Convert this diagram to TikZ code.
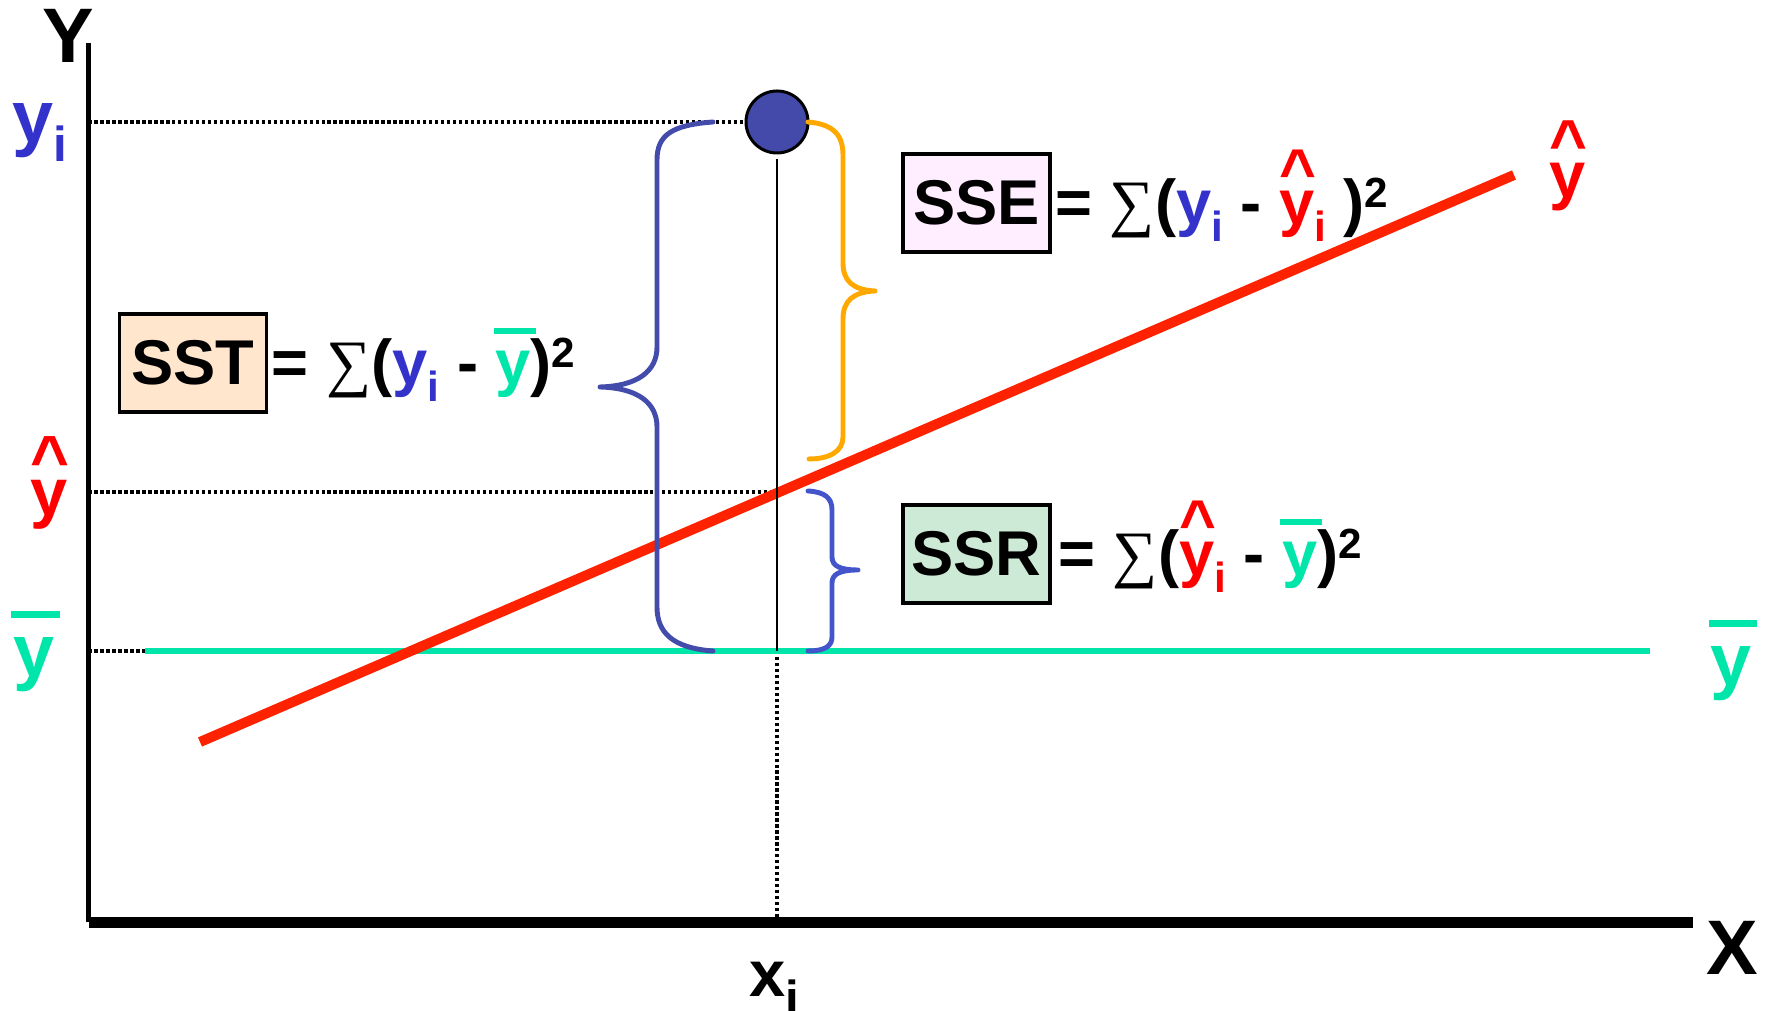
\documentclass[tikz,border=0pt]{standalone}
\usepackage{fontspec}
\setmainfont{Liberation Sans}
\newfontfamily\sumfont{Liberation Serif}
\usetikzlibrary{positioning}
\definecolor{regBlue}{HTML}{3333CC}
\definecolor{regRed}{HTML}{FF0000}
\definecolor{regLine}{HTML}{FF2200}
\definecolor{regTeal}{HTML}{00E5AA}
\definecolor{regDot}{HTML}{434AAA}
\definecolor{regBrace}{HTML}{434BAB}
\definecolor{regSsr}{HTML}{4455CC}
\definecolor{regOrange}{HTML}{FFA800}
\definecolor{regPink}{HTML}{FFEEFF}
\definecolor{regPeach}{HTML}{FFE6CC}
\definecolor{regMint}{HTML}{CCEAD6}
\newcommand{\yhatsym}{\rlap{\raisebox{0.5em}{\textasciicircum}}y}
\newcommand{\ybarsym}{\rlap{\hspace{-0.03em}\rule[0.8em]{0.66em}{0.1em}}y}
\newcommand{\eqi}{\raisebox{-4.7pt}{\fontsize{12}{14}\selectfont i}}
\newcommand{\eqsq}{\raisebox{5pt}{\fontsize{12}{14}\selectfont 2}}
\newcommand{\labi}{\raisebox{-5.4pt}{\fontsize{14}{16}\selectfont i}}
\newcommand{\sumsign}{{\sumfont\mdseries ∑}}
\tikzset{
  reg axis/.style={draw=black, line width=1.42pt},
  reg guide/.style={draw=black, line width=0.95pt, dash pattern=on 0.95pt off 0.75pt},
  reg box/.style={draw=black, line width=0.95pt, minimum width=1.47cm, minimum height=0.98cm, inner sep=0pt, font=\bfseries\fontsize{18}{20}\selectfont},
  reg eq/.style={inner sep=0pt, font=\bfseries\fontsize{18}{20}\selectfont},
  reg brace/.style={line width=1.4pt, line cap=round, line join=round},
  reg label/.style={inner sep=0pt, anchor=base west, font=\bfseries\fontsize{20}{24}\selectfont},
}

\begin{document}
\begin{tikzpicture}
  \useasboundingbox (0,0) rectangle (17.69,10.11);

  % Key points
  \coordinate (o) at (0.885,0.885);
  \coordinate (ytop) at (0.885,9.68);
  \coordinate (xend) at (16.93,0.885);
  \coordinate (xi) at (7.77,0.94);
  \coordinate (fit a) at (2.00,2.69);
  \coordinate (fit b) at (15.14,8.36);
  \coordinate (yhat) at (7.77,5.19);
  \coordinate (ybar) at (7.77,3.60);
  \coordinate (mean a) at (1.45,3.60);
  \coordinate (mean b) at (16.50,3.60);
  \node[circle, draw=black, line width=0.85pt, fill=regDot, minimum size=0.62cm, inner sep=0pt] (pt) at (7.77,8.89) {};

  % Guides
  \draw[reg guide] (o |- pt) -- (pt.west);
  \draw[reg guide] (o |- yhat) -- (yhat);
  \draw[reg guide] (o |- ybar) -- (mean a);
  \draw[reg guide] (ybar) -- (xi);

  % Mean and fitted line
  \draw[regTeal, line width=1.5pt] (mean a) -- (mean b);
  \draw[regLine, line width=2.85pt] (fit a) -- (fit b);
  \draw[black, line width=0.7pt] ([yshift=-0.05cm]pt.south) -- (ybar);

  % Axes
  \draw[reg axis] (o) -- (ytop);
  \draw[reg axis, line width=3.1pt] (o) -- (xend);
  \node[font=\bfseries\fontsize{22}{26}\selectfont, inner sep=0pt] (ylab) at (0.68,9.755) {Y};
  \node[font=\bfseries\fontsize{22}{26}\selectfont, inner sep=0pt] (xlab) at (17.325,0.635) {X};

  % Side labels
  \node[reg label, text=regBlue, font=\bfseries\fontsize{21}{24}\selectfont] (yi lab) at (0.12,8.68) {y\labi};
  \node[reg label, text=regRed, font=\bfseries\fontsize{19}{22}\selectfont] (yhat lab) at (0.30,4.95) {\yhatsym};
  \node[reg label, text=regTeal, font=\bfseries\fontsize{21}{24}\selectfont] (ybar lab) at (0.13,3.34) {\ybarsym};
  \node[reg label, text=regRed, font=\bfseries\fontsize{18.5}{22}\selectfont] (fit lab) at (15.49,8.13) {\yhatsym};
  \node[reg label, text=regTeal, font=\bfseries\fontsize{21}{24}\selectfont] (mean lab) at (17.10,3.25) {\ybarsym};
  \node[reg label, font=\bfseries\fontsize{18.5}{22}\selectfont] (xi lab) at (7.49,0.14) {x\labi};

  % Braces
  \draw[reg brace, regBrace] (7.13,8.89) .. controls (6.72,8.86) and (6.57,8.76) .. (6.57,8.51)
    -- (6.57,6.64) .. controls (6.57,6.40) and (6.38,6.25) .. (6.00,6.24)
    .. controls (6.38,6.23) and (6.57,6.08) .. (6.57,5.84)
    -- (6.57,4.04) .. controls (6.57,3.79) and (6.72,3.63) .. (7.13,3.60);
  \draw[reg brace, regOrange] (8.08,8.89) .. controls (8.30,8.87) and (8.43,8.79) .. (8.43,8.56)
    -- (8.43,7.48) .. controls (8.43,7.30) and (8.53,7.21) .. (8.75,7.20)
    .. controls (8.53,7.19) and (8.43,7.10) .. (8.43,6.92)
    -- (8.43,5.74) .. controls (8.43,5.60) and (8.30,5.52) .. (8.09,5.52);
  \draw[reg brace, regSsr] (8.08,5.20) .. controls (8.25,5.19) and (8.32,5.13) .. (8.32,5.01)
    -- (8.32,4.54) .. controls (8.32,4.45) and (8.40,4.41) .. (8.58,4.41)
    .. controls (8.40,4.41) and (8.32,4.37) .. (8.32,4.28)
    -- (8.32,3.74) .. controls (8.32,3.65) and (8.25,3.60) .. (8.08,3.60);

  % Sums of squares
  \node[reg box, fill=regPeach] (sst) at (1.93,6.48) {SST};
  \node[reg eq, base right=0.03cm of sst] (sst eq) {= \sumsign(\textcolor{regBlue}{y\eqi} - \textcolor{regTeal}{\ybarsym})\eqsq};
  \node[reg box, fill=regPink] (sse) at (9.765,8.08) {SSE};
  \node[reg eq, base right=0.03cm of sse] (sse eq) {= \sumsign(\textcolor{regBlue}{y\eqi} - \textcolor{regRed}{\yhatsym\eqi} )\eqsq};
  \node[reg box, fill=regMint] (ssr) at (9.765,4.57) {SSR};
  \node[reg eq, base right=0.06cm of ssr] (ssr eq) {= \sumsign(\textcolor{regRed}{\yhatsym\eqi} - \textcolor{regTeal}{\ybarsym})\eqsq};
\end{tikzpicture}
\end{document}
